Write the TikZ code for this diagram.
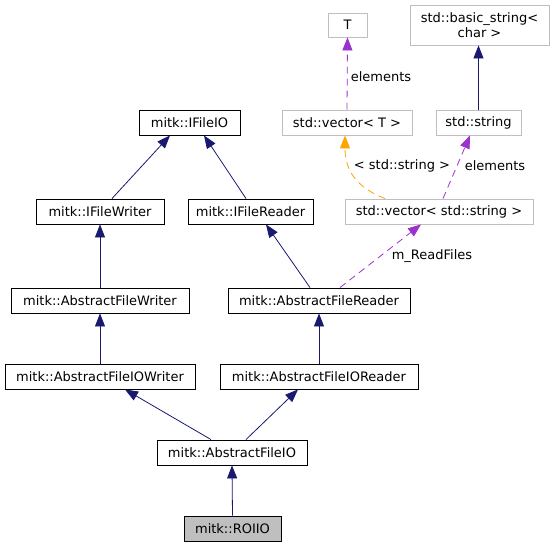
\documentclass[tikz,border=0pt]{standalone}
\usepackage{fontspec}
\setmainfont{DejaVu Sans}
\usetikzlibrary{arrows.meta}
\definecolor{navy}{HTML}{191970}
\definecolor{purp}{HTML}{9A32CD}
\definecolor{orng}{HTML}{FFA500}
\definecolor{grey75}{HTML}{BFBFBF}
\begin{document}
\begin{tikzpicture}[x=1pt,y=-1pt,
  font=\fontsize{13}{14.5}\selectfont,
  cls/.style={draw=black,line width=0.9pt,fill=white,inner sep=0pt,align=center},
  ext/.style={draw=grey75,line width=0.9pt,fill=white,inner sep=0pt,align=center},
  inh/.style={draw=navy,line width=0.8pt,-{Triangle[length=13pt,width=10pt]}},
  use/.style={draw=purp,line width=0.8pt,dash pattern=on 7pt off 5pt,-{Triangle[length=13pt,width=10pt]}},
  tpl/.style={draw=orng,line width=0.8pt,dash pattern=on 7pt off 5pt,-{Triangle[length=13pt,width=10pt]}},
  lbl/.style={inner sep=1pt}]
\useasboundingbox (0,0) rectangle (554,548);
\node[ext,minimum width=39pt,minimum height=24pt] (T) at (347.5,25) {T};
\node[ext,minimum width=139pt,minimum height=40pt] (bs) at (479.5,25) {std::basic\_string<\\char >};
\node[cls,minimum width=101pt,minimum height=25pt] (ifio) at (189.5,122.5) {mitk::IFileIO};
\node[ext,minimum width=130pt,minimum height=25pt] (vt) at (347,122.5) {std::vector< T >};
\node[ext,minimum width=85pt,minimum height=25pt] (str) at (478.5,122.5) {std::string};
\node[cls,minimum width=128pt,minimum height=25pt] (ifw) at (100,211.5) {mitk::IFileWriter};
\node[cls,minimum width=125pt,minimum height=25pt] (ifr) at (250.5,211.5) {mitk::IFileReader};
\node[ext,minimum width=188pt,minimum height=25pt] (vs) at (439,211.5) {std::vector< std::string >};
\node[cls,minimum width=178pt,minimum height=25pt] (afw) at (100,300.5) {mitk::AbstractFileWriter};
\node[cls,minimum width=182pt,minimum height=25pt] (afr) at (319,300.5) {mitk::AbstractFileReader};
\node[cls,minimum width=190pt,minimum height=25pt] (afiow) at (100,376.5) {mitk::AbstractFileIOWriter};
\node[cls,minimum width=198pt,minimum height=25pt] (afior) at (319,376.5) {mitk::AbstractFileIOReader};
\node[cls,minimum width=150pt,minimum height=25pt] (afio) at (232,452.5) {mitk::AbstractFileIO};
\node[cls,fill=grey75,minimum width=97pt,minimum height=25pt] (roi) at (232.5,528.5) {mitk::ROIIO};
% inheritance
\draw[inh] (roi.north) -- (afio.south);
\draw[inh] (afio.north -| 211,0) -- (afiow.south -| 125,0);
\draw[inh] (afio.north -| 246,0) -- (afior.south -| 298,0);
\draw[inh] (afiow.north) -- (afw.south);
\draw[inh] (afior.north) -- (afr.south);
\draw[inh] (afw.north) -- (ifw.south);
\draw[inh] (afr.north -| 310,0) -- (ifr.south -| 266,0);
\draw[inh] (ifw.north -| 112,0) -- (ifio.south -| 170,0);
\draw[inh] (ifr.north -| 246,0) -- (ifio.south -| 204,0);
\draw[inh] (str.north) -- (bs.south -| str.north);
% usage
\draw[use] (afr.north -| 340,0) -- (vs.south -| 421,0);
\node[lbl] (l1) at (432,256) {m\_ReadFiles};
\draw[use] (vs.north -| 443,0) -- (str.south -| 470,0);
\node[lbl] (l2) at (495,166) {elements};
\draw[use] (vt.north) -- (T.south);
\node[lbl] (l3) at (381,77) {elements};
\draw[tpl] (vs.north -| 385,0) .. controls (358,188) and (345,172) .. (vt.south -| 345,0);
\node[lbl] (l4) at (402,166) {< std::string >};
\end{tikzpicture}
\end{document}
